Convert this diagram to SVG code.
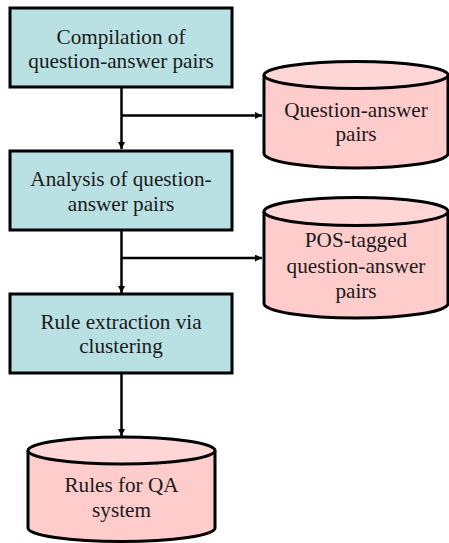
<svg xmlns="http://www.w3.org/2000/svg" width="449" height="543" viewBox="0 0 449 543">
<style>
.box{fill:#b9e0e3;stroke:#000;stroke-width:3}
.cyl{fill:#ffcccc;stroke:#000;stroke-width:3}
.cyltop{fill:#ffd6d6;stroke:#000;stroke-width:3}
.t{font-family:"Liberation Serif","Times New Roman",serif;font-size:21.2px;fill:#1a1a1a;text-anchor:middle}
.c{fill:none;stroke:#000;stroke-width:2.5}
</style>
<defs>
<marker id="ah" viewBox="0 0 10 10" refX="10" refY="5" markerWidth="7" markerHeight="7" markerUnits="userSpaceOnUse" orient="auto">
<path d="M0,0 L10,5 L0,10 z" fill="#000"/>
</marker>
</defs>
<rect width="449" height="543" fill="#fff"/>
<g id="connectors">
<path class="c" d="M121.5,87 V149" marker-end="url(#ah)"/>
<path class="c" d="M121.5,115.5 H262" marker-end="url(#ah)"/>
<path class="c" d="M121.5,230 V293" marker-end="url(#ah)"/>
<path class="c" d="M121.5,258 H262" marker-end="url(#ah)"/>
<path class="c" d="M121.5,373 V436" marker-end="url(#ah)"/>
</g>
<g id="n1">
<rect class="box" x="10" y="8" width="222" height="79"/>
<text class="t" x="121" y="44">Compilation of</text>
<text class="t" x="121" y="68">question-answer pairs</text>
</g>
<g id="n2">
<path class="cyl" d="M264,75 V153.5 A92,14.5 0 0 0 448,153.5 V75"/>
<ellipse class="cyltop" cx="356" cy="75" rx="92" ry="13.5"/>
<text class="t" x="356" y="117">Question-answer</text>
<text class="t" x="356" y="141">pairs</text>
</g>
<g id="n3">
<rect class="box" x="10" y="151" width="222" height="79"/>
<text class="t" x="121" y="186">Analysis of question-</text>
<text class="t" x="121" y="211">answer pairs</text>
</g>
<g id="n4">
<path class="cyl" d="M264,211.5 V303.5 A92,14.5 0 0 0 448,303.5 V211.5"/>
<ellipse class="cyltop" cx="356" cy="211.5" rx="92" ry="14"/>
<text class="t" x="356" y="247">POS-tagged</text>
<text class="t" x="356" y="273">question-answer</text>
<text class="t" x="356" y="298">pairs</text>
</g>
<g id="n5">
<rect class="box" x="10" y="294" width="222" height="79"/>
<text class="t" x="121" y="329">Rule extraction via</text>
<text class="t" x="121" y="353">clustering</text>
</g>
<g id="n6">
<path class="cyl" d="M28,450.5 V528 A93.5,13.5 0 0 0 215,528 V450.5"/>
<ellipse class="cyltop" cx="121.5" cy="450.5" rx="93.5" ry="13.5"/>
<text class="t" x="121.5" y="492">Rules for QA</text>
<text class="t" x="121.5" y="517">system</text>
</g>
</svg>
